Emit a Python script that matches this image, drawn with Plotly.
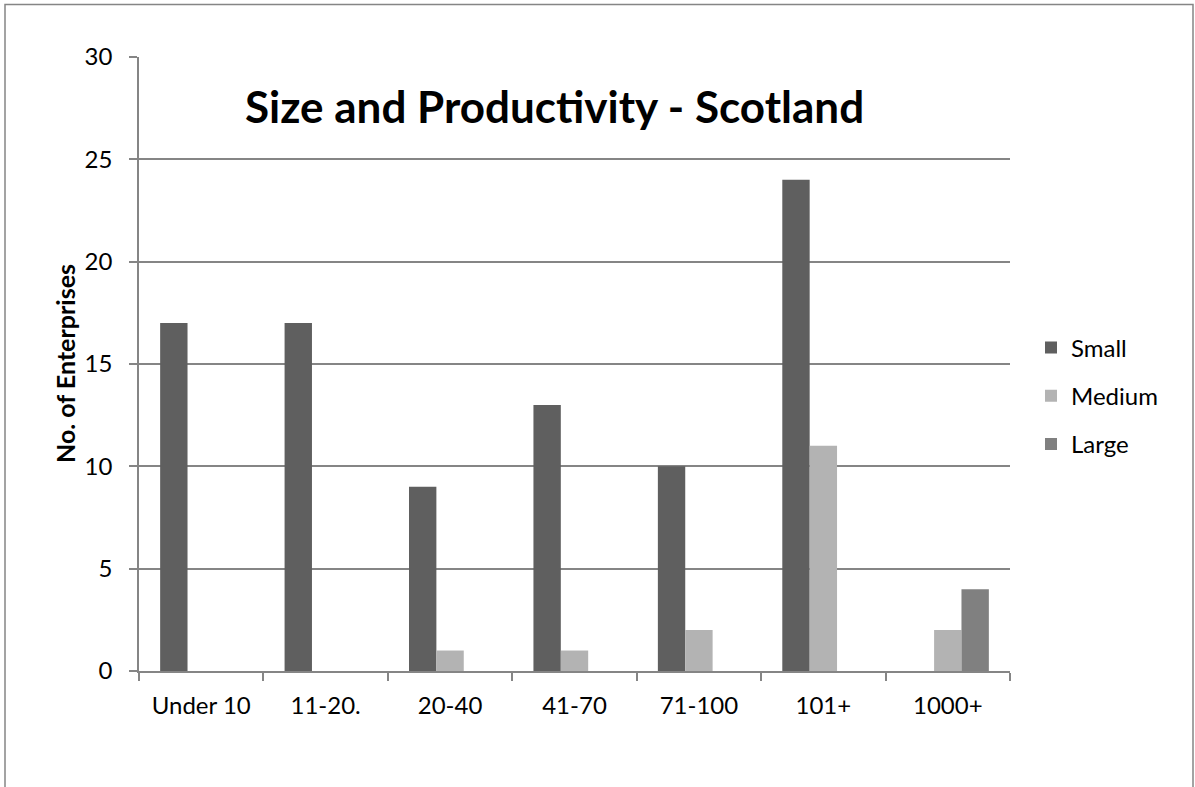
import plotly.graph_objects as go

categories = ["Under 10", "11-20.", "20-40", "41-70", "71-100", "101+", "1000+"]
small = [17, 17, 9, 13, 10, 24, 0]
medium = [0, 0, 1, 1, 2, 11, 2]
large = [0, 0, 0, 0, 0, 0, 4]
series_names = ["Small", "Medium", "Large"]
colors = ["#5f5f5f", "#b3b3b3", "#808080"]

W, H = 1195, 787
L, R, T, B = 139, 1010, 57, 671
FONT = "Lato"
GRID = "#858585"

fig = go.Figure()
for name, vals, col in zip(series_names, [small, medium, large], colors):
    fig.add_trace(go.Bar(
        x=categories, y=vals, name=name, legendgroup=name,
        marker=dict(color=col, line=dict(width=0)),
    ))

def px2x(px):
    return (px - L) / (R - L)

def px2y(py):
    return (B - py) / (B - T)

fig.update_layout(
    width=W, height=H,
    margin=dict(l=L, r=W - R, t=T, b=H - B, pad=0),
    paper_bgcolor="white", plot_bgcolor="white",
    barmode="group", bargap=0.34, bargroupgap=0,
    font=dict(family=FONT, size=24, color="black"),
    showlegend=True,
    legend=dict(
        x=px2x(1031), xanchor="left", y=px2y(396), yanchor="middle",
        font=dict(family=FONT, size=24, color="black"),
        tracegroupgap=14, bgcolor="rgba(0,0,0,0)",
    ),
    xaxis=dict(
        showline=True, linecolor=GRID, linewidth=1.5,
        ticks="outside", ticklen=8, tickcolor=GRID, tickwidth=1.5,
        tickson="boundaries", showgrid=False,
        tickfont=dict(family=FONT, size=24, color="black"),
        ticklabelstandoff=12,
    ),
    yaxis=dict(
        range=[0, 30], dtick=5, tick0=0,
        showline=True, linecolor=GRID, linewidth=1.5,
        ticks="outside", ticklen=8, tickcolor=GRID, tickwidth=1.5,
        showgrid=True, gridcolor=GRID, gridwidth=1.5,
        zeroline=False,
        tickfont=dict(family=FONT, size=24, color="black"),
        ticklabelstandoff=12,
    ),
    annotations=[
        dict(text="<b>Size and Productivity - Scotland</b>", x=px2x(554), y=px2y(106),
             xref="paper", yref="paper", xanchor="center", yanchor="middle",
             showarrow=False, font=dict(family=FONT, size=44, color="black")),
        dict(text="<b>No. of Enterprises</b>", x=px2x(65), y=0.5,
             xref="paper", yref="paper", xanchor="center", yanchor="middle",
             textangle=-90, showarrow=False,
             font=dict(family=FONT, size=25, color="black")),
    ],
    shapes=[
        dict(type="rect", xref="paper", yref="paper",
             x0=px2x(5), x1=px2x(1193), y0=px2y(4.5), y1=px2y(900),
             line=dict(color=GRID, width=1.5), fillcolor="rgba(0,0,0,0)",
             layer="below"),
    ],
)

fig.write_html("out.html")
